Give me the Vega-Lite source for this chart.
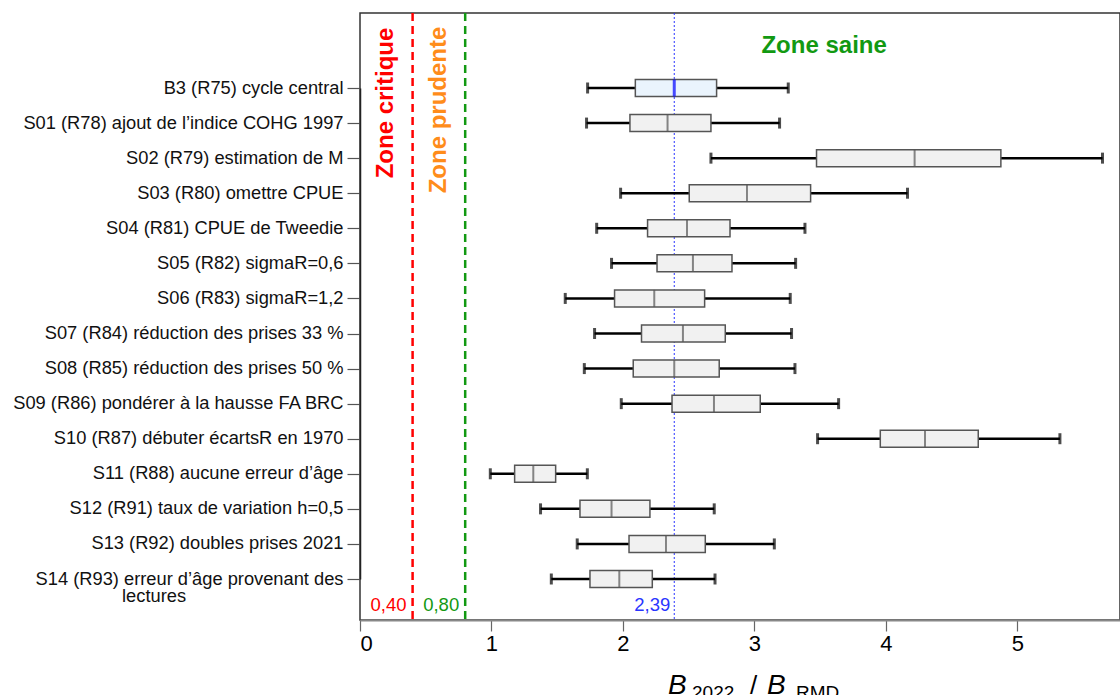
{
  "$schema": "https://vega.github.io/schema/vega-lite/v6.json",
  "autosize": {"type": "none"},
  "padding": {"left": 360, "top": 13, "right": 0, "bottom": 75},
  "width": 760,
  "height": 607,
  "background": "white",
  "config": {"font": "Liberation Sans", "view": {"stroke": "#333", "strokeWidth": 1.5}},
  "data": {"values": [
    {"scen": "B3 (R75) cycle central", "lo": 1.731, "q1": 2.094, "med": 2.390, "q3": 2.712, "hi": 3.257, "base": true},
    {"scen": "S01 (R78) ajout de l’indice COHG 1997", "lo": 1.723, "q1": 2.053, "med": 2.339, "q3": 2.669, "hi": 3.191, "base": false},
    {"scen": "S02 (R79) estimation de M", "lo": 2.669, "q1": 3.472, "med": 4.218, "q3": 4.874, "hi": 5.647, "base": false},
    {"scen": "S03 (R80) omettre CPUE", "lo": 1.982, "q1": 2.504, "med": 2.943, "q3": 3.427, "hi": 4.164, "base": false},
    {"scen": "S04 (R81) CPUE de Tweedie", "lo": 1.800, "q1": 2.187, "med": 2.487, "q3": 2.814, "hi": 3.384, "base": false},
    {"scen": "S05 (R82) sigmaR=0,6", "lo": 1.913, "q1": 2.259, "med": 2.532, "q3": 2.829, "hi": 3.313, "base": false},
    {"scen": "S06 (R83) sigmaR=1,2", "lo": 1.561, "q1": 1.936, "med": 2.238, "q3": 2.621, "hi": 3.272, "base": false},
    {"scen": "S07 (R84) réduction des prises 33 %", "lo": 1.784, "q1": 2.141, "med": 2.456, "q3": 2.778, "hi": 3.282, "base": false},
    {"scen": "S08 (R85) réduction des prises 50 %", "lo": 1.706, "q1": 2.078, "med": 2.390, "q3": 2.732, "hi": 3.308, "base": false},
    {"scen": "S09 (R86) pondérer à la hausse FA BRC", "lo": 1.987, "q1": 2.373, "med": 2.692, "q3": 3.044, "hi": 3.640, "base": false},
    {"scen": "S10 (R87) débuter écartsR en 1970", "lo": 3.480, "q1": 3.957, "med": 4.297, "q3": 4.702, "hi": 5.323, "base": false},
    {"scen": "S11 (R88) aucune erreur d’âge", "lo": 0.991, "q1": 1.176, "med": 1.318, "q3": 1.488, "hi": 1.729, "base": false},
    {"scen": "S12 (R91) taux de variation h=0,5", "lo": 1.373, "q1": 1.673, "med": 1.913, "q3": 2.205, "hi": 2.694, "base": false},
    {"scen": "S13 (R92) doubles prises 2021", "lo": 1.652, "q1": 2.046, "med": 2.327, "q3": 2.626, "hi": 3.151, "base": false},
    {"scen": "S14 (R93) erreur d’âge provenant des|lectures", "lo": 1.455, "q1": 1.749, "med": 1.972, "q3": 2.223, "hi": 2.700, "base": false}
  ]},
  "encoding": {
    "y": {
      "field": "scen", "type": "nominal", "sort": null,
      "scale": {"type": "point", "range": [75, 566], "padding": 0},
      "axis": {
        "title": null,
        "labelFontSize": 18.3,
        "labelColor": "#111",
        "labelPadding": 4,
        "labelLineHeight": 17,
        "labelLimit": 400,
        "labelExpr": "indexof(datum.value, '|') > 0 ? [split(datum.value, '|')[0], split(datum.value, '|')[1] + '\u00a0\u00a0\u00a0\u00a0\u00a0\u00a0\u00a0\u00a0\u00a0\u00a0\u00a0\u00a0\u00a0\u00a0\u00a0\u00a0\u00a0\u00a0\u00a0\u00a0\u00a0\u00a0\u00a0\u00a0\u00a0\u00a0\u00a0\u00a0\u00a0\u00a0\u00a0\u2060'] : datum.value",
        "tickSize": 13,
        "tickColor": "#555",
        "tickWidth": 1.2,
        "domainColor": "#222",
        "domainWidth": 1.5,
        "grid": false
      }
    }
  },
  "layer": [
    {
      "data": {"values": [{}]},
      "mark": {"type": "rule", "color": "#ff0000", "strokeDash": [8, 5], "strokeWidth": 2.5},
      "encoding": {"x": {"datum": 0.4, "type": "quantitative", "scale": {"domain": [0, 5.78], "nice": false, "zero": true},
        "axis": {"title": null, "values": [0, 1, 2, 3, 4, 5], "format": "d", "labelFontSize": 22, "labelColor": "#000", "labelPadding": 2, "tickSize": 11, "tickColor": "#666", "tickWidth": 1.2, "domainColor": "#888", "domainWidth": 1.8, "grid": false}},
        "y": null}
    },
    {
      "data": {"values": [{}]},
      "mark": {"type": "rule", "color": "#129912", "strokeDash": [8, 5], "strokeWidth": 2.5},
      "encoding": {"x": {"datum": 0.8, "type": "quantitative"}, "y": null}
    },
    {
      "data": {"values": [{}]},
      "mark": {"type": "rule", "color": "#2a35ff", "strokeDash": [2, 2], "strokeWidth": 1},
      "encoding": {"x": {"datum": 2.39, "type": "quantitative"}, "y": null}
    },
    {
      "mark": {"type": "rule", "color": "#000", "strokeWidth": 2.5},
      "encoding": {"x": {"field": "lo", "type": "quantitative"}, "x2": {"field": "hi"}}
    },
    {
      "mark": {"type": "tick", "color": "#000", "size": 11, "thickness": 3, "orient": "vertical"},
      "encoding": {"x": {"field": "lo", "type": "quantitative"}}
    },
    {
      "mark": {"type": "tick", "color": "#000", "size": 11, "thickness": 3, "orient": "vertical"},
      "encoding": {"x": {"field": "hi", "type": "quantitative"}}
    },
    {
      "mark": {"type": "bar", "size": 17, "stroke": "#555", "strokeWidth": 1.5},
      "encoding": {
        "x": {"field": "q1", "type": "quantitative"}, "x2": {"field": "q3"},
        "fill": {"condition": {"test": "datum.base", "value": "#eaf4fd"}, "value": "#f1f1f1"}
      }
    },
    {
      "transform": [{"filter": "!datum.base"}],
      "mark": {"type": "tick", "size": 17, "thickness": 2, "orient": "vertical", "color": "#555"},
      "encoding": {"x": {"field": "med", "type": "quantitative"}}
    },
    {
      "transform": [{"filter": "datum.base"}],
      "mark": {"type": "tick", "size": 17, "thickness": 3, "orient": "vertical", "color": "#0000ff"},
      "encoding": {"x": {"field": "med", "type": "quantitative"}}
    },
    {
      "data": {"values": [{}]},
      "mark": {"type": "text", "color": "#ff0000", "fontSize": 24, "fontWeight": "bold", "angle": 270, "align": "center", "baseline": "middle", "dx": -15},
      "encoding": {"x": {"datum": 0.2, "type": "quantitative"}, "y": {"datum": "B3 (R75) cycle central", "type": "nominal"}, "text": {"value": "Zone critique"}}
    },
    {
      "data": {"values": [{}]},
      "mark": {"type": "text", "color": "#ff8c1a", "fontSize": 24, "fontWeight": "bold", "angle": 270, "align": "center", "baseline": "middle", "dx": -22},
      "encoding": {"x": {"datum": 0.603, "type": "quantitative"}, "y": {"datum": "B3 (R75) cycle central", "type": "nominal"}, "text": {"value": "Zone prudente"}}
    },
    {
      "data": {"values": [{}]},
      "mark": {"type": "text", "color": "#129912", "fontSize": 24, "fontWeight": "bold", "align": "center", "baseline": "middle", "dy": -42},
      "encoding": {"x": {"datum": 3.53, "type": "quantitative"}, "y": {"datum": "B3 (R75) cycle central", "type": "nominal"}, "text": {"value": "Zone saine"}}
    },
    {
      "data": {"values": [{}]},
      "mark": {"type": "text", "color": "#ff0000", "fontSize": 18.5, "align": "right", "baseline": "middle", "dx": -6, "dy": 26},
      "encoding": {"x": {"datum": 0.4, "type": "quantitative"}, "y": {"datum": "S14 (R93) erreur d’âge provenant des|lectures", "type": "nominal"}, "text": {"value": "0,40"}}
    },
    {
      "data": {"values": [{}]},
      "mark": {"type": "text", "color": "#129912", "fontSize": 18.5, "align": "right", "baseline": "middle", "dx": -6, "dy": 26},
      "encoding": {"x": {"datum": 0.8, "type": "quantitative"}, "y": {"datum": "S14 (R93) erreur d’âge provenant des|lectures", "type": "nominal"}, "text": {"value": "0,80"}}
    },
    {
      "data": {"values": [{}]},
      "mark": {"type": "text", "color": "#2a35ff", "fontSize": 18.5, "align": "right", "baseline": "middle", "dx": -4, "dy": 26},
      "encoding": {"x": {"datum": 2.39, "type": "quantitative"}, "y": {"datum": "S14 (R93) erreur d’âge provenant des|lectures", "type": "nominal"}, "text": {"value": "2,39"}}
    },
    {
      "data": {"values": [{}]},
      "mark": {"type": "text", "color": "#000", "fontSize": 28, "fontStyle": "italic", "align": "left", "baseline": "alphabetic", "dy": 115},
      "encoding": {"x": {"datum": 2.342, "type": "quantitative"}, "y": {"datum": "S14 (R93) erreur d’âge provenant des|lectures", "type": "nominal"}, "text": {"value": "B"}}
    },
    {
      "data": {"values": [{}]},
      "mark": {"type": "text", "color": "#000", "fontSize": 19, "align": "left", "baseline": "alphabetic", "dy": 120},
      "encoding": {"x": {"datum": 2.525, "type": "quantitative"}, "y": {"datum": "S14 (R93) erreur d’âge provenant des|lectures", "type": "nominal"}, "text": {"value": "2022"}}
    },
    {
      "data": {"values": [{}]},
      "mark": {"type": "text", "color": "#000", "fontSize": 26, "align": "left", "baseline": "alphabetic", "dy": 115},
      "encoding": {"x": {"datum": 2.966, "type": "quantitative"}, "y": {"datum": "S14 (R93) erreur d’âge provenant des|lectures", "type": "nominal"}, "text": {"value": "/"}}
    },
    {
      "data": {"values": [{}]},
      "mark": {"type": "text", "color": "#000", "fontSize": 28, "fontStyle": "italic", "align": "left", "baseline": "alphabetic", "dy": 115},
      "encoding": {"x": {"datum": 3.095, "type": "quantitative"}, "y": {"datum": "S14 (R93) erreur d’âge provenant des|lectures", "type": "nominal"}, "text": {"value": "B"}}
    },
    {
      "data": {"values": [{}]},
      "mark": {"type": "text", "color": "#000", "fontSize": 19, "align": "left", "baseline": "alphabetic", "dy": 120},
      "encoding": {"x": {"datum": 3.316, "type": "quantitative"}, "y": {"datum": "S14 (R93) erreur d’âge provenant des|lectures", "type": "nominal"}, "text": {"value": "RMD"}}
    }
  ]
}
